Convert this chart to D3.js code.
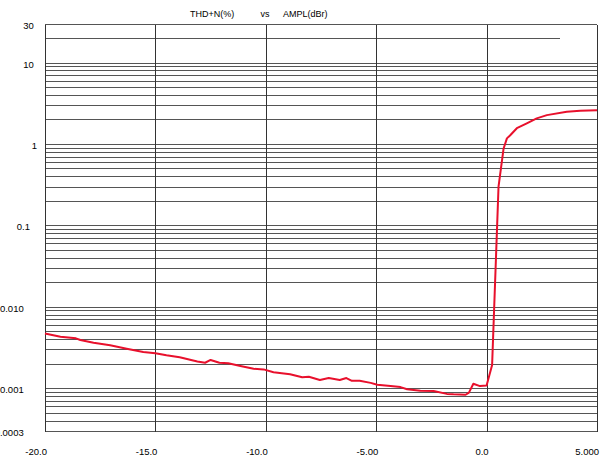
<!DOCTYPE html>
<html>
<head>
<meta charset="utf-8">
<script src="https://cdn.jsdelivr.net/npm/d3@7"></script>
<style>
    body { margin: 0; background: #fff; }
    text { font-family: "Liberation Sans", Arial, sans-serif; fill: #000; }
</style>
</head>
<body>
<div id="svg"></div>
<script>
// THD+N (%) vs amplitude (dBr)
const amplDbr = [-20, -19.3, -18.6, -18.4, -17.8, -17.05, -16.3, -15.55, -15.0, -14.5,
    -13.9, -13.1, -12.75, -12.5, -12.1, -11.7, -11.15, -10.55, -10.1, -9.65,
    -8.9, -8.35, -8.05, -7.55, -7.15, -6.65, -6.35, -6.1, -5.75, -5.25,
    -4.95, -4.35, -3.9, -3.6, -3.0, -2.4, -1.8, -1.5, -0.95, -0.8,
    -0.6, -0.3, 0.0, 0.25, 0.54, 0.77, 0.92, 1.07, 1.37, 1.82,
    2.27, 2.73, 3.63, 4.24, 5.0];
const thdPct = [0.0047, 0.00428, 0.00409, 0.0039, 0.00361, 0.00336, 0.00305, 0.00278, 0.00268, 0.00253,
    0.00239, 0.00213, 0.00205, 0.00222, 0.00205, 0.00202, 0.00187, 0.00173, 0.0017, 0.00157,
    0.00148, 0.00136, 0.00138, 0.00126, 0.00133, 0.00126, 0.00133, 0.00123, 0.00123, 0.00116,
    0.0011, 0.00106, 0.00103, 0.00097, 0.00093, 0.00092, 0.00085, 0.00084, 0.00083, 0.00088,
    0.00113, 0.00106, 0.00108, 0.00192, 0.298, 0.88, 1.17, 1.28, 1.56, 1.79,
    2.06, 2.26, 2.49, 2.56, 2.6];

const xTicks = [-20, -15, -10, -5, 0, 5];
const xTickLabels = ["-20.0", "-15.0", "-10.0", "-5.00", "0.0", "5.000"];
const yTicks = [30, 10, 1, 0.1, 0.01, 0.001, 0.0003];
const yTickLabels = ["30", "10", "1", "0.1", "0.010", "0.001", "0.0003"];
const titleParts = ["THD+N(%)", "vs", "AMPL(dBr)"];

let width = 600, height = 456;
let plotLeft = 45, plotRight = 597, plotTop = 23.7, plotBottom = 430.7;

let svg = d3.select("#svg")
    .append("svg")
    .attr("width", width)
    .attr("height", height);

let xAxis = d3.scaleLinear().domain([-20, 5]).range([plotLeft, plotRight]);
let yAxis = d3.scaleLog().domain([0.0003, 30]).range([plotBottom, plotTop]);

// horizontal grid, 1..9 per decade
let grid = svg.append("g").attr("shape-rendering", "crispEdges");
yAxis.ticks().forEach(v => {
    let y = Math.round(yAxis(v)) + 0.5;
    // the 20 % line stops short of the right border in the original
    let xEnd = Math.abs(v - 20) < 1e-9 ? xAxis(3.33) : plotRight;
    grid.append("line")
        .attr("x1", plotLeft).attr("x2", xEnd)
        .attr("y1", y).attr("y2", y)
        .style("stroke", "#555")
        .style("stroke-width", 1);
});

// vertical grid
xTicks.forEach(v => {
    let x = Math.round(xAxis(v)) + 0.5;
    grid.append("line")
        .attr("x1", x).attr("x2", x)
        .attr("y1", Math.round(plotTop) + 0.5).attr("y2", Math.round(plotBottom) + 0.5)
        .style("stroke", "#333")
        .style("stroke-width", 1);
});

// x labels
let gx = svg.append("g")
    .attr("transform", "translate(0," + plotBottom + ")")
    .call(d3.axisBottom(xAxis)
        .tickValues(xTicks)
        .tickSize(0)
        .tickFormat((d, i) => xTickLabels[i]));
gx.select(".domain").remove();
gx.selectAll("text")
    .attr("y", 24.5)
    .attr("dy", 0)
    .attr("dx", 1.5)
    .attr("text-anchor", "end")
    .style("font-size", "9.5px")
    .style("font-family", "'Liberation Sans', Arial, sans-serif");

// y labels (the original right edges wander with label length)
const labelRight = {1: 37, 2: 33.7, 3: 30, 5: 23.7, 6: 23.7};
let gy = svg.append("g")
    .attr("transform", "translate(" + plotLeft + ",0)")
    .call(d3.axisLeft(yAxis)
        .tickValues(yTicks)
        .tickSize(0)
        .tickFormat((d, i) => yTickLabels[i]));
gy.select(".domain").remove();
gy.selectAll("text")
    .attr("x", function () { return labelRight[this.textContent.length] - plotLeft; })
    .attr("dy", 4.5)
    .attr("text-anchor", "end")
    .style("font-size", "9.5px")
    .style("font-family", "'Liberation Sans', Arial, sans-serif");

// title
let titleX = [190, 260.5, 283];
svg.selectAll(".title")
    .data(titleParts)
    .enter()
    .append("text")
    .classed("title", true)
    .attr("x", (d, i) => titleX[i])
    .attr("y", 16.5)
    .style("font-size", "9px")
    .text(d => d);

// curve
let d3line = d3.line()
    .x(d => xAxis(d[0]))
    .y(d => yAxis(d[1]))
    .curve(d3.curveLinear);

svg.append("path")
    .attr("d", d3line(amplDbr.map((v, i) => [v, thdPct[i]])))
    .style("stroke", "#e8102c")
    .style("stroke-width", 2)
    .style("stroke-linejoin", "round")
    .style("fill", "none");
</script>
</body>
</html>
